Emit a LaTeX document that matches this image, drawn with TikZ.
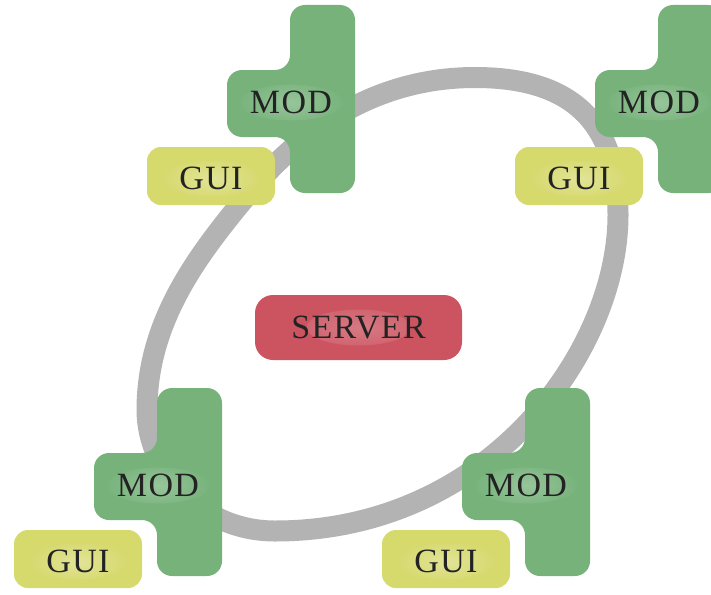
\documentclass[tikz,border=0pt]{standalone}
\usepackage{fontspec}
\setmainfont{Liberation Serif}[LetterSpace=4]
\usetikzlibrary{fadings}
\definecolor{modgreen}{RGB}{118,178,122}
\definecolor{guiyellow}{RGB}{214,217,108}
\definecolor{srvred}{RGB}{204,84,97}
\definecolor{ringgray}{RGB}{179,179,179}
\definecolor{txtcol}{RGB}{35,35,35}
\tikzfading[name=glowfade, inner color=transparent!0, outer color=transparent!100]
\tikzset{
  glow/.style={path picture={\fill[white, fill opacity=#1, path fading=glowfade]
      (path picture bounding box.center) ellipse [x radius=52pt, y radius=18pt];}},
  lbl/.style={text=txtcol, font=\fontsize{34}{36}\selectfont, inner sep=0pt},
  modshape/.style={fill=modgreen, rounded corners=15pt},
  guibox/.style={lbl, fill=guiyellow, rounded corners=14pt, minimum width=128pt, minimum height=58pt},
  srvbox/.style={lbl, fill=srvred, rounded corners=18pt, minimum width=207pt, minimum height=65pt, glow=0.22},
  modlbl/.style={lbl, minimum width=110pt, minimum height=50pt, glow=0.25},
  guilbl/.style={lbl, minimum width=100pt, minimum height=44pt, glow=0.3},
  ring/.style={draw=ringgray, line width=21pt}
}
\newcommand{\modgroup}[3]{%
  \begin{scope}[shift={(#1,#2)}]
    \path[modshape] (290,5) -- (355,5) -- (355,193) -- (290,193) -- (290,137)
      -- (227,137) -- (227,70) -- (290,70) -- cycle;
    \node[modlbl] (mod#3) at (291,102.5) {MOD};
    \node[guibox] (gui#3) at (211,176) {};
    \node[guilbl] (guitext#3) at (211,178.5) {GUI};
  \end{scope}}
\begin{document}
\begin{tikzpicture}[x=1pt,y=-1pt]
\useasboundingbox (0,0) rectangle (711,594);
\clip (0,0) rectangle (711,594);
\draw[ring] (475,77.5) .. controls (580,77.5) and (618,130) .. (618,215)
  .. controls (618,350) and (490,531) .. (275,531)
  .. controls (200,531) and (147,470) .. (147,410)
  .. controls (147,320) and (198.8,253.6) .. (250,192)
  .. controls (301.2,130.4) and (375,77.5) .. (475,77.5) -- cycle;
\modgroup{0}{0}{tl}
\modgroup{368}{0}{tr}
\modgroup{-133}{383}{bl}
\modgroup{235}{383}{br}
\node[srvbox] (server) at (358.5,327.5) {SERVER};
\end{tikzpicture}
\end{document}
